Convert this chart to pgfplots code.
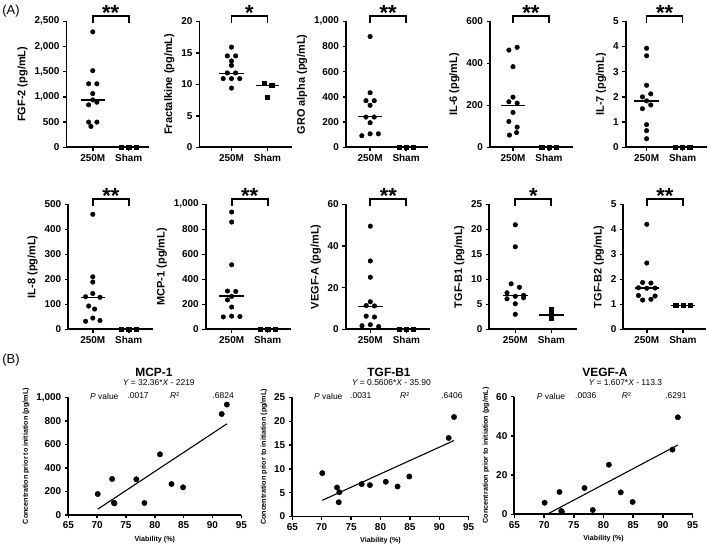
\documentclass[border=0pt]{standalone}
\usepackage{pgfplots}
\pgfplotsset{compat=1.18}
\usepackage{fontspec}
\setmainfont{Liberation Sans}
\pgfplotsset{
 base/.style={scale only axis, anchor=south west, clip=false,
  axis x line*=bottom, axis y line*=left,
  axis line style={line width=1.8bp},
  tick align=outside, major tick length=3.5bp,
  tick style={line width=1.5bp, black},
  xticklabel style={font=\fontsize{10}{12}\selectfont\bfseries},
  yticklabel style={font=\fontsize{10}{12}\selectfont\bfseries},
  scaled y ticks=false,
  /pgf/number format/1000 sep={,},
  /pgf/number format/assume math mode=true,
  },
 apanel/.style={base, ymin=0, xtick={0,1}, xticklabels={250M,Sham},
  ylabel style={font=\fontsize{11}{13}\selectfont\bfseries}},
 bpanel/.style={base, ymin=0, xmin=65, xmax=95, xtick={65,70,...,95},
  ylabel={Concentration prior to initiation (pg/mL)},
  xlabel={Viability (\%)},
  ylabel style={font=\fontsize{7.2}{8}\selectfont\bfseries},
  xlabel style={font=\fontsize{7.2}{8}\selectfont\bfseries}},
 dots/.style={only marks, mark=*, mark size=2.3bp, black},
 bdots/.style={only marks, mark=*, mark size=2.7bp, black},
 sq/.style={only marks, mark=square*, mark size=2.1bp, black},
 med/.style={black, line width=1.5bp, no marks},
}
\newcommand{\sig}[2]{%
 \draw[line width=1.8bp, line join=miter] (axis cs:0,{0.99*#1}) -- (axis cs:0,{1.045*#1}) -- (axis cs:1,{1.045*#1}) -- (axis cs:1,{0.99*#1});
 \node[anchor=base, font=\fontsize{22}{22}\selectfont\bfseries, inner sep=0pt] at (axis cs:0.5,{1.005*#1}) {#2};}
\begin{document}
\begin{tikzpicture}[x=1bp,y=1bp]
\useasboundingbox (0,0) rectangle (709,548);
\node[font=\fontsize{13}{15}\selectfont] at (11,537) {(A)};
\node[font=\fontsize{13}{15}\selectfont] at (11,188) {(B)};

% ---------- Row 1 ----------
\begin{axis}[apanel, at={(66.5bp,400.7bp)}, width=82bp, height=126bp,
  xmin=-0.73, xmax=1.55, ymax=2500, ytick={0,500,...,2500}, ylabel={FGF-2 (pg/mL)}]
\addplot[dots] coordinates {(0,2290) (0,1520) (-0.115,1260) (0.115,1260) (0,1066) (0,940) (0.115,895) (-0.115,842) (-0.115,500) (0.115,500) (-0.05,414)};
\addplot[sq] coordinates {(0.8,0) (1,0) (1.2,0)};
\addplot[med] coordinates {(-0.34,940) (0.34,940)};
\sig{2500}{**}
\end{axis}

\begin{axis}[apanel, at={(199.5bp,400.7bp)}, width=92bp, height=126bp,
  xmin=-0.89, xmax=1.67, ymax=20, ytick={0,5,...,20}, ylabel={Fractalkine (pg/mL)}]
\addplot[dots] coordinates {(0,15.9) (-0.115,14.5) (0.115,14.5) (0,13.7) (0,13.0) (-0.115,11.8) (0.115,11.8) (-0.23,10.9) (0,10.9) (0.23,10.9) (0,9.4)};
\addplot[sq] coordinates {(0.9,10.2) (1.12,9.8) (1,8.0)};
\addplot[med] coordinates {(-0.34,11.7) (0.34,11.7)};
\addplot[med] coordinates {(0.68,9.8) (1.32,9.8)};
\sig{20}{*}
\end{axis}

\begin{axis}[apanel, at={(346bp,400.7bp)}, width=82bp, height=126bp,
  xmin=-0.67, xmax=1.61, ymax=1000, ytick={0,200,...,1000}, ylabel={GRO alpha (pg/mL)}]
\addplot[dots] coordinates {(0,879) (0,433) (-0.115,370) (0.115,370) (0,333) (-0.115,240) (0.115,240) (0,195) (-0.23,92) (0,107) (0.23,107)};
\addplot[sq] coordinates {(0.8,0) (1,0) (1.2,0)};
\addplot[med] coordinates {(-0.34,244) (0.34,244)};
\sig{1000}{**}
\end{axis}

\begin{axis}[apanel, at={(490bp,400.7bp)}, width=83bp, height=126bp,
  xmin=-0.64, xmax=1.67, ymax=600, ytick={0,200,...,600}, ylabel={IL-6 (pg/mL)}]
\addplot[dots] coordinates {(0.115,476) (-0.115,463) (0,384) (0,239) (-0.115,217) (0.115,210) (0,166) (-0.115,123) (0.115,96) (0.1,70) (-0.1,58)};
\addplot[sq] coordinates {(0.8,0) (1,0) (1.2,0)};
\addplot[med] coordinates {(-0.34,198) (0.34,198)};
\sig{600}{**}
\end{axis}

\begin{axis}[apanel, at={(625.7bp,400.7bp)}, width=81bp, height=126bp,
  xmin=-0.58, xmax=1.67, ymax=5, ytick={0,1,...,5}, ylabel={IL-7 (pg/mL)}]
\addplot[dots] coordinates {(0,3.93) (0,3.63) (0,2.46) (0.115,2.12) (-0.115,2.0) (0,1.84) (0.115,1.68) (-0.115,1.53) (0,0.9) (0,0.66) (0,0.34)};
\addplot[sq] coordinates {(0.8,0) (1,0) (1.2,0)};
\addplot[med] coordinates {(-0.34,1.84) (0.34,1.84)};
\sig{5}{**}
\end{axis}

% ---------- Row 2 ----------
\begin{axis}[apanel, at={(68.3bp,218.7bp)}, width=84.6bp, height=125bp,
  xmin=-0.68, xmax=1.67, ymax=500, ytick={0,100,...,500}, ylabel={IL-8 (pg/mL)}]
\addplot[dots] coordinates {(0,460) (0,210) (0,189) (0,143) (-0.2,130) (0.2,128) (-0.115,93) (0.05,81) (0,45) (-0.2,32) (0.2,35)};
\addplot[sq] coordinates {(0.8,0) (1,0) (1.2,0)};
\addplot[med] coordinates {(-0.34,128) (0.34,128)};
\sig{500}{**}
\end{axis}

\begin{axis}[apanel, at={(205.7bp,218.7bp)}, width=85bp, height=125bp,
  xmin=-0.72, xmax=1.64, ymax=1000, ytick={0,200,...,1000}, ylabel={MCP-1 (pg/mL)}]
\addplot[dots] coordinates {(0,938) (0,858) (0,516) (-0.115,306) (0.115,303) (0,263) (-0.115,235) (0,178) (-0.23,99) (0,105) (0.23,102)};
\addplot[sq] coordinates {(0.8,0) (1,0) (1.2,0)};
\addplot[med] coordinates {(-0.34,265) (0.34,265)};
\sig{1000}{**}
\end{axis}

\begin{axis}[apanel, at={(345.8bp,218.7bp)}, width=84bp, height=125bp,
  xmin=-0.68, xmax=1.65, ymax=60, ytick={0,20,...,60}, ylabel={VEGF-A (pg/mL)}]
\addplot[dots] coordinates {(0,49.5) (0,32.8) (0,25.0) (0,13.2) (-0.115,11.4) (0.115,11.2) (-0.115,6.3) (0.115,5.9) (-0.23,1.7) (0,2.2) (0.23,1.3)};
\addplot[sq] coordinates {(0.8,0) (1,0) (1.2,0)};
\addplot[med] coordinates {(-0.34,11.0) (0.34,11.0)};
\sig{60}{**}
\end{axis}

\begin{axis}[apanel, at={(489.3bp,218.7bp)}, width=88bp, height=125bp,
  xmin=-0.72, xmax=1.72, ymax=25, ytick={0,5,...,25}, ylabel={TGF-B1 (pg/mL)}]
\addplot[dots] coordinates {(0,20.9) (0,16.5) (-0.115,9.1) (0.115,8.4) (-0.23,7.3) (0.23,6.8) (0,6.6) (-0.23,6.1) (0.23,6.3) (0,5.1) (0,3.0)};
\addplot[sq] coordinates {(1,4.0) (1,2.9) (1,2.2)};
\addplot[med] coordinates {(-0.34,6.8) (0.34,6.8)};
\addplot[med] coordinates {(0.66,2.9) (1.34,2.9)};
\sig{25}{*}
\end{axis}

\begin{axis}[apanel, at={(623.3bp,218.7bp)}, width=83bp, height=125bp,
  xmin=-0.65, xmax=1.65, ymax=5, ytick={0,1,...,5}, ylabel={TGF-B2 (pg/mL)}]
\addplot[dots] coordinates {(0,4.2) (0,2.65) (-0.115,1.87) (0.115,1.85) (-0.23,1.66) (0.23,1.65) (0,1.64) (-0.23,1.35) (0.23,1.33) (-0.115,1.17) (0.115,1.2)};
\addplot[sq] coordinates {(0.8,0.95) (1,0.95) (1.2,0.95)};
\addplot[med] coordinates {(-0.34,1.65) (0.34,1.65)};
\addplot[med] coordinates {(0.66,0.95) (1.34,0.95)};
\sig{5}{**}
\end{axis}

% ---------- Row B ----------
\begin{axis}[bpanel, at={(68.3bp,33bp)}, width=173bp, height=117.7bp,
  ymax=1000, ytick={0,200,...,1000}]
\addplot[bdots] coordinates {(70.1,178) (72.6,306) (72.9,105) (73.0,99) (76.8,303) (78.2,102) (80.9,516) (82.9,263) (84.9,235) (91.6,858) (92.5,938)};
\addplot[black, line width=1.1bp, no marks] coordinates {(70.1,49.4) (92.5,774.3)};
\end{axis}

\begin{axis}[bpanel, at={(292.3bp,31.5bp)}, width=176.4bp, height=119bp,
  ymax=25, ytick={0,5,...,25}]
\addplot[bdots] coordinates {(70.1,9.1) (72.6,6.1) (72.9,3.0) (73.0,5.1) (76.8,6.8) (78.2,6.6) (80.9,7.3) (82.9,6.3) (84.9,8.4) (91.6,16.5) (92.5,20.9)};
\addplot[black, line width=1.1bp, no marks] coordinates {(70.1,3.40) (92.5,15.96)};
\end{axis}

\begin{axis}[bpanel, at={(514.3bp,33.7bp)}, width=178.4bp, height=117.6bp,
  ymax=60, ytick={0,20,...,60}]
\addplot[bdots] coordinates {(70.1,5.9) (72.6,11.4) (72.9,1.7) (73.0,1.3) (76.8,13.4) (78.2,2.2) (80.9,25.3) (82.9,11.2) (84.9,6.3) (91.6,33.0) (92.5,49.5)};
\addplot[black, line width=1.1bp, no marks] coordinates {(70.5,0) (92.5,35.35)};
\end{axis}

% B titles and stats
\begin{scope}[every node/.style={inner sep=0pt}]
\node[font=\fontsize{12}{14}\selectfont\bfseries] at (154,176) {MCP-1};
\node[font=\fontsize{12}{14}\selectfont\bfseries] at (389,176) {TGF-B1};
\node[font=\fontsize{12}{14}\selectfont\bfseries] at (605,176) {VEGF-A};
\node[font=\fontsize{8.5}{10}\selectfont, anchor=west] at (122.7,165.5) {{\itshape Y} = 32.36*{\itshape X} - 2219};
\node[font=\fontsize{8.5}{10}\selectfont, anchor=west] at (351.7,165.5) {{\itshape Y} = 0.5606*{\itshape X} - 35.90};
\node[font=\fontsize{8.5}{10}\selectfont, anchor=west] at (588.3,165.5) {{\itshape Y} = 1.607*{\itshape X} - 113.3};
\begin{scope}[every node/.style={font=\fontsize{8.5}{10}\selectfont, inner sep=0pt}]
\node[anchor=west] at (90,152) {{\itshape P} value};
\node[anchor=west] at (127.3,152) {.0017};
\node[anchor=west] at (170,152) {{\itshape R}²};
\node[anchor=east] at (234,152) {.6824};
\node[anchor=west] at (314,152) {{\itshape P} value};
\node[anchor=west] at (350,152) {.0031};
\node[anchor=west] at (400,152) {{\itshape R}²};
\node[anchor=east] at (462.7,152) {.6406};
\node[anchor=west] at (536.7,152) {{\itshape P} value};
\node[anchor=west] at (575,152) {.0036};
\node[anchor=west] at (621.7,152) {{\itshape R}²};
\node[anchor=east] at (686.7,152) {.6291};
\end{scope}
\end{scope}
\end{tikzpicture}
\end{document}
